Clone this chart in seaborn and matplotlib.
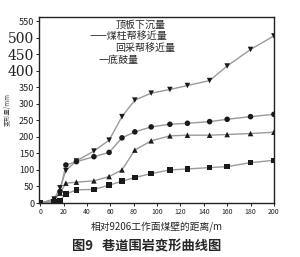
import matplotlib
matplotlib.use("Agg")
import matplotlib.pyplot as plt
import numpy as np
import pandas as pd
import seaborn as sns

# distance from the 9206 face (m)
distance = [0, 12, 17, 22, 31, 46, 59, 70, 81, 95, 111, 126, 145, 160, 180, 200]
# deformation (mm)
roof_sag = [0, 12, 46, 98, 127, 157, 190, 261, 311, 332, 343, 355, 370, 414, 464, 505]
pillar_side = [0, 8, 35, 115, 125, 140, 153, 197, 215, 230, 238, 241, 246, 253, 261, 268]
mining_side = [0, 10, 30, 60, 63, 67, 80, 100, 160, 188, 203, 205, 205, 207, 210, 214]
floor_heave = [0, 4, 8, 27, 40, 41, 54, 66, 77, 89, 100, 103, 107, 110, 122, 129]

series_names = ["顶板下沉量", "煤柱帮移近量", "回采帮移近量", "底鼓量"]
legend_lines = ["顶板下沉量", "——煤柱帮移近量", "回采帮移近量", "一底鼓量"]
x_ticks = [0, 20, 40, 60, 80, 100, 120, 140, 160, 180, 200]
y_ticks = [0, 50, 100, 150, 200, 250, 300, 350, 400, 450, 500, 550]

frames = []
for name, vals in zip(series_names, [roof_sag, pillar_side, mining_side, floor_heave]):
    frames.append(pd.DataFrame({"x": distance, "y": vals, "s": name}))
df = pd.concat(frames, ignore_index=True)

sns.set_style("ticks")
plt.rcParams["font.family"] = ["Noto Sans CJK SC", "DejaVu Sans"]

fig = plt.figure(figsize=(3.0, 2.57), dpi=100)
ax = fig.add_axes([0.13, 0.21, 0.783, 0.725])

sns.lineplot(data=df, x="x", y="y", units="s", estimator=None, color="#9a9a9a",
             lw=1.0, ax=ax, legend=False)
sns.scatterplot(data=df, x="x", y="y", style="s", color="#1a1a1a",
                markers={"顶板下沉量": "v", "煤柱帮移近量": "o",
                         "回采帮移近量": "^", "底鼓量": "s"},
                s=16, linewidth=0, ax=ax, legend=False, zorder=3)

ax.set_xlim(-1, 200)
ax.set_ylim(0, 563)
ax.set_xticks(x_ticks)
ax.set_yticks(y_ticks)
ax.set_xticklabels([str(v) for v in x_ticks], fontsize=5)
ax.set_yticklabels([str(v) for v in y_ticks], fontsize=6.5)
for lab in ax.get_yticklabels():
    if lab.get_text() in ("400", "450", "500"):
        lab.set_fontsize(10)
        lab.set_family(["DejaVu Serif"])
ax.tick_params(axis="both", length=2.5, width=0.7, pad=1, colors="#222222")
for sp in ax.spines.values():
    sp.set_linewidth(1.0)
    sp.set_color("#222222")

ax.set_xlabel("相对9206工作面煤壁的距离/m", fontsize=7, labelpad=4)
ax.set_ylabel("变形量/mm", fontsize=4.5, color="#444444")
ax.yaxis.set_label_coords(-0.115, 0.5)

ys = [0.905, 0.860, 0.815, 0.768]
xs = [0.385, 0.30, 0.385, 0.33]
for t, xx, yy in zip(legend_lines, xs, ys):
    fig.text(xx, yy, t, fontsize=7.2, va="center", ha="left")

fig.text(0.49, 0.04, "图9   巷道围岩变形曲线图", fontsize=9.5, fontweight="bold",
         ha="center", va="center")

fig.savefig("out.png", dpi=100)
